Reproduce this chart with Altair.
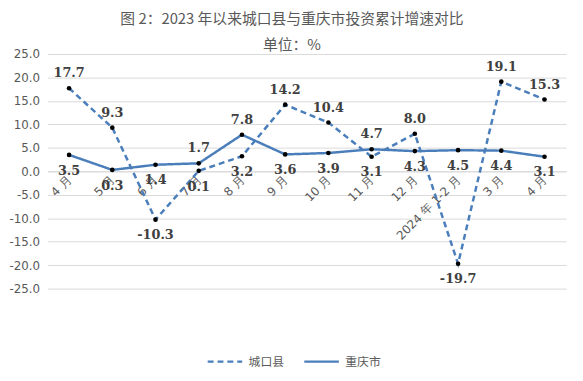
import altair as alt
import pandas as pd

periods = ["4 月", "5 月", "6 月", "7 月", "8 月", "9 月", "10 月", "11 月",
           "12 月", "2024 年 1-2 月", "3 月", "4 月"]
chengkou = [17.7, 9.3, -10.3, 0.1, 3.2, 14.2, 10.4, 3.1, 8.0, -19.7, 19.1, 15.3]
chongqing = [3.5, 0.3, 1.4, 1.7, 7.8, 3.6, 3.9, 4.7, 4.3, 4.5, 4.4, 3.1]
series_names = ["城口县", "重庆市"]
y_ticks = [25, 20, 15, 10, 5, 0, -5, -10, -15, -20, -25]

rows = []
for i in range(len(periods)):
    a, b = chengkou[i], chongqing[i]
    rows.append(dict(idx=i, series=series_names[0], value=a, label=f"{a:.1f}",
                     above=bool(a > b)))
    rows.append(dict(idx=i, series=series_names[1], value=b, label=f"{b:.1f}",
                     above=bool(b > a and a >= 0)))
df = pd.DataFrame(rows)

label_expr = "[" + ",".join("'" + p + "'" for p in periods) + "][datum.value]"

BLUE = "#4A7EBB"
GRID = "#D9D9D9"
GRAY = "#595959"

base = alt.Chart(df).encode(
    x=alt.X("idx:O", scale=alt.Scale(type="point", padding=0.5),
            axis=alt.Axis(title=None, offset=-119, ticks=False, domain=True,
                          domainColor=GRID, domainWidth=1, grid=False,
                          labelAngle=-45, labelAlign="right", labelBaseline="middle",
                          labelPadding=6, labelExpr=label_expr, labelOverlap=False,
                          labelFont="DejaVu Sans", labelFontSize=12, labelColor=GRAY)),
    y=alt.Y("value:Q", scale=alt.Scale(domain=[-25, 25], nice=False, zero=False),
            axis=alt.Axis(title=None, values=y_ticks, domain=False,
                          labelExpr="replace(format(datum.value, '.1f'), '−', '-')",
                          ticks=False, labelPadding=8, grid=True, gridColor=GRID,
                          gridWidth=1, labelFont="DejaVu Sans", labelFontSize=12,
                          labelColor=GRAY)),
)

line = base.mark_line(color=BLUE, strokeWidth=2.5).encode(
    strokeDash=alt.StrokeDash(
        "series:N",
        scale=alt.Scale(domain=series_names, range=[[6, 4], [1, 0]]),
        legend=alt.Legend(title=None, orient="none", legendX=161, legendY=293,
                          direction="horizontal", symbolType="stroke",
                          symbolSize=1225, symbolStrokeWidth=2.5,
                          symbolStrokeColor=BLUE, labelFontSize=12,
                          labelFont="Noto Sans CJK SC", labelColor=GRAY,
                          columnPadding=14, labelOffset=5),
    )
)

points = base.mark_circle(color="black", size=22, opacity=1)

label_style = dict(font="DejaVu Serif", fontWeight="bold", fontSize=13,
                   color="#404040", baseline="middle")
text_above = base.transform_filter("datum.above").mark_text(dy=-15, **label_style).encode(
    text="label:N")
text_below = base.transform_filter("!datum.above").mark_text(dy=16, **label_style).encode(
    text="label:N")

chart = alt.layer(line, points, text_above, text_below).properties(
    width=526, height=238, autosize="none",
    padding={"left": 40, "top": 44, "right": 9, "bottom": 88},
    title=alt.Title(text="图 2：2023 年以来城口县与重庆市投资累计增速对比",
                    subtitle="单位：%", font="Noto Sans CJK SC",
                    subtitleFont="Noto Sans CJK SC", fontSize=15,
                    subtitleFontSize=15, fontWeight="normal", color=GRAY,
                    subtitleColor=GRAY, anchor="middle", dx=-15, offset=-5,
                    subtitlePadding=11),
).configure_view(stroke=None)

chart.save("out.html", embed_options={"renderer": "svg", "actions": False})
